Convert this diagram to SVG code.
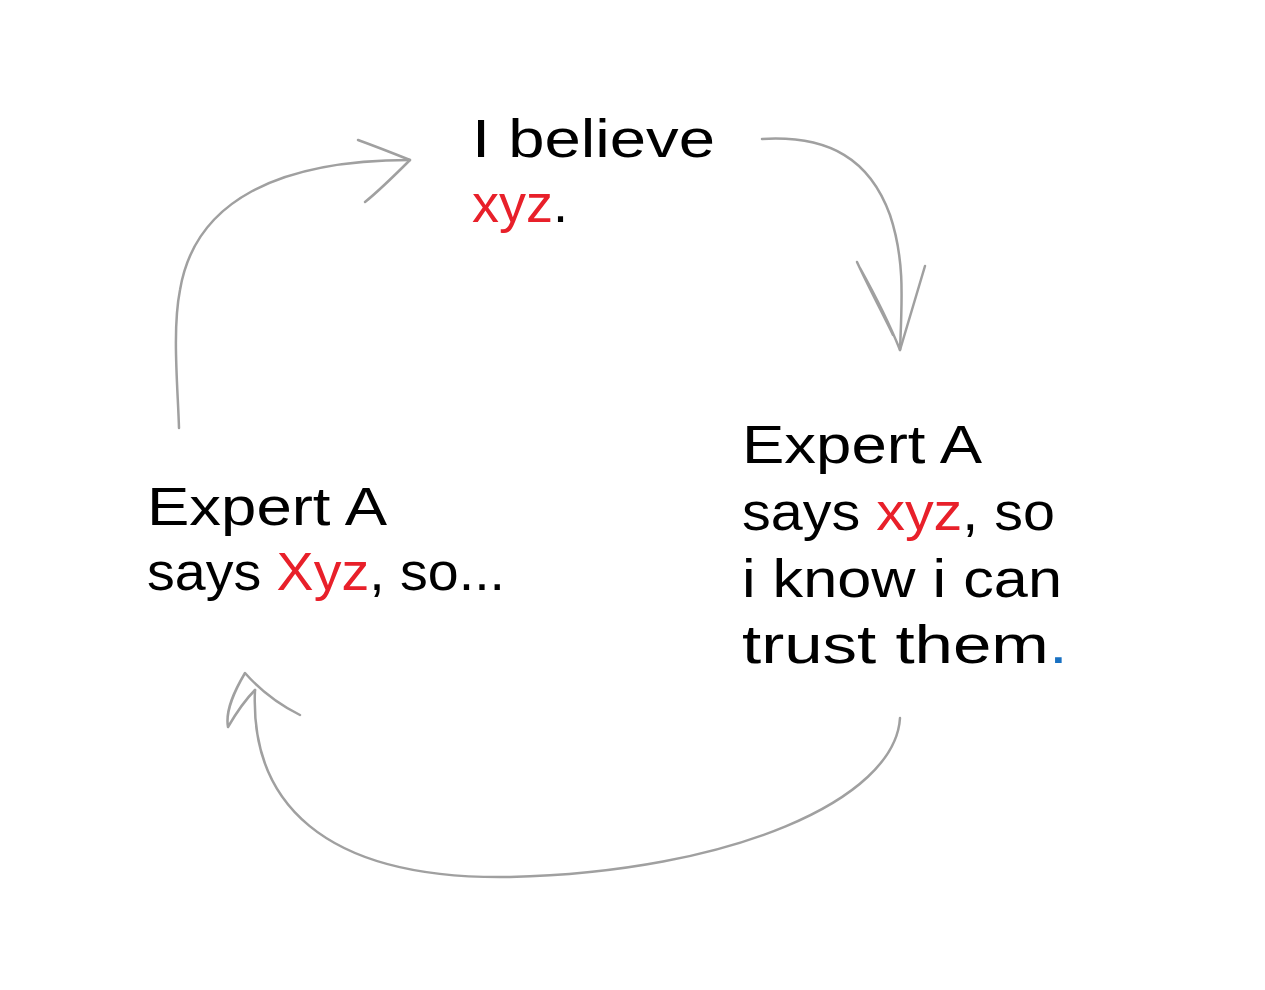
<svg xmlns="http://www.w3.org/2000/svg" width="1265" height="990" viewBox="0 0 1265 990">
<style>
.t{font-family:"Liberation Sans","DejaVu Sans",sans-serif;font-size:54px;fill:#000;}
.r{fill:#e8202a;}
.b{fill:#1971c2;}
.c{fill:none;stroke:#a0a0a0;stroke-width:2.5;stroke-linecap:round;stroke-linejoin:round;}
</style>
<rect width="1265" height="990" fill="#fff"/>
<g id="node-believe">
<text class="t" x="472" y="157" textLength="243" lengthAdjust="spacingAndGlyphs">I believe</text>
<text class="t" x="472" y="222"><tspan class="r">xyz</tspan>.</text>
</g>
<g id="node-left">
<text class="t" x="147" y="525" textLength="240" lengthAdjust="spacingAndGlyphs">Expert A</text>
<text class="t" x="147" y="590" textLength="358" lengthAdjust="spacingAndGlyphs">says <tspan class="r">Xyz</tspan>, so...</text>
</g>
<g id="node-right">
<text class="t" x="742" y="463" textLength="240" lengthAdjust="spacingAndGlyphs">Expert A</text>
<text class="t" x="742" y="530" textLength="313" lengthAdjust="spacingAndGlyphs">says <tspan class="r">xyz</tspan>, so</text>
<text class="t" x="742" y="597" textLength="320" lengthAdjust="spacingAndGlyphs">i know i can</text>
<text class="t" x="742" y="663" textLength="326" lengthAdjust="spacingAndGlyphs">trust them<tspan class="b">.</tspan></text>
</g>
<g id="connectors">
<path class="c" d="M762,139 C 830,135 870,160 890,215 C 905,260 902,300 900,350"/>
<path class="c" d="M857,262 C 870,290 885,318 893,335 M860,268 C 875,295 890,325 900,350 L 925,266"/>
<path class="c" d="M900,718 C 895,800 730,872 510,877 C 320,880 250,800 255,690"/>
<path class="c" d="M300,715 C 280,705 260,690 245,673 C 235,690 225,710 228,727 C 235,715 245,700 255,690"/>
<path class="c" d="M179,428 C 178,390 172,330 180,290 C 195,200 280,160 410,160"/>
<path class="c" d="M358,140 C 380,148 395,154 410,160 C 395,175 380,190 365,202"/>
</g>
</svg>
